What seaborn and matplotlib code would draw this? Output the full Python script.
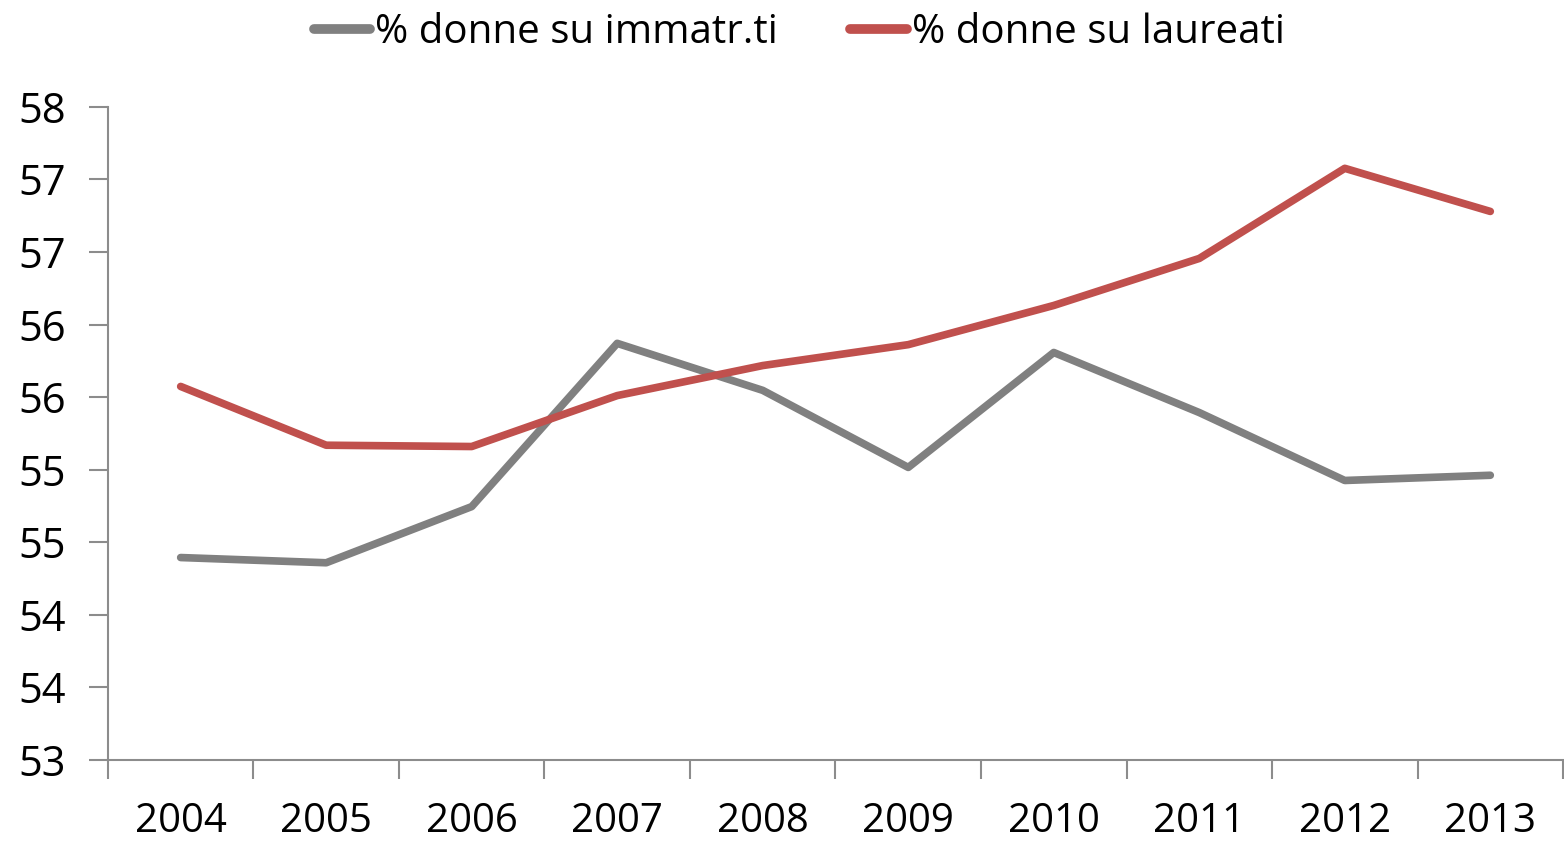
import numpy as np
import pandas as pd
import matplotlib
matplotlib.use("Agg")
import matplotlib.pyplot as plt
import seaborn as sns
from matplotlib.ticker import FixedLocator, FormatStrFormatter

# --- data ---
years = ["2004", "2005", "2006", "2007", "2008", "2009", "2010", "2011", "2012", "2013"]
immatricolati = [54.55, 54.51, 54.94, 56.19, 55.83, 55.24, 56.12, 55.66, 55.14, 55.18]
laureati = [55.86, 55.41, 55.40, 55.79, 56.02, 56.18, 56.48, 56.84, 57.53, 57.20]
series_names = ["% donne su immatr.ti", "% donne su laureati"]
series_colors = ["#808080", "#C0504D"]

df = pd.DataFrame({
    "anno": years * 2,
    "valore": immatricolati + laureati,
    "serie": [series_names[0]] * len(years) + [series_names[1]] * len(years),
})

sns.set_style("white")
plt.rcParams['font.family'] = ['Open Sans', 'DejaVu Sans']
plt.rcParams['text.color'] = 'black'
plt.rcParams['xtick.color'] = 'black'
plt.rcParams['ytick.color'] = 'black'

fig = plt.figure(figsize=(15.64, 8.42), dpi=100)
ax = fig.add_axes([0.069, 0.0974, 0.9304, 0.7756])

sns.lineplot(data=df, x="anno", y="valore", hue="serie", palette=series_colors,
             linewidth=5.5, ax=ax, sort=False)

# y axis: 10 ticks from 53 to 58, labels rounded like the original
ax.set_ylim(53, 58)
ax.yaxis.set_major_locator(FixedLocator(np.linspace(53, 58, 10)))
ax.yaxis.set_major_formatter(FormatStrFormatter('%.0f'))

# x axis: category labels centered, tick marks on the boundaries
ax.set_xlim(-0.5, len(years) - 0.5)
ax.set_xticks(range(len(years)))
ax.set_xticklabels(years)
ax.set_xticks(np.arange(-0.5, len(years)), minor=True)
ax.tick_params(axis='x', which='major', bottom=True, length=0, pad=30, labelsize=29,
               labelcolor='black')
ax.tick_params(axis='x', which='minor', bottom=True, length=14, width=1.5,
               color='#8c8c8c', direction='out')
ax.tick_params(axis='y', left=True, length=14, width=1.5, color='#8c8c8c',
               direction='out', pad=16, labelsize=30, labelcolor='black')

for side in ['top', 'right']:
    ax.spines[side].set_visible(False)
for side in ['left', 'bottom']:
    ax.spines[side].set_color('#8c8c8c')
    ax.spines[side].set_linewidth(1.5)

ax.set_xlabel('')
ax.set_ylabel('')

leg = ax.legend(loc='upper center', bbox_to_anchor=(0.5 - 0.025, 1.2), ncol=2, frameon=False,
                fontsize=29, handlelength=1.4, handletextpad=0.12, columnspacing=1.8)
for line in leg.get_lines():
    line.set_linewidth(7)
    line.set_solid_capstyle('round')
for t in leg.get_texts():
    t.set_color('black')

fig.savefig("out.png", dpi=100)
